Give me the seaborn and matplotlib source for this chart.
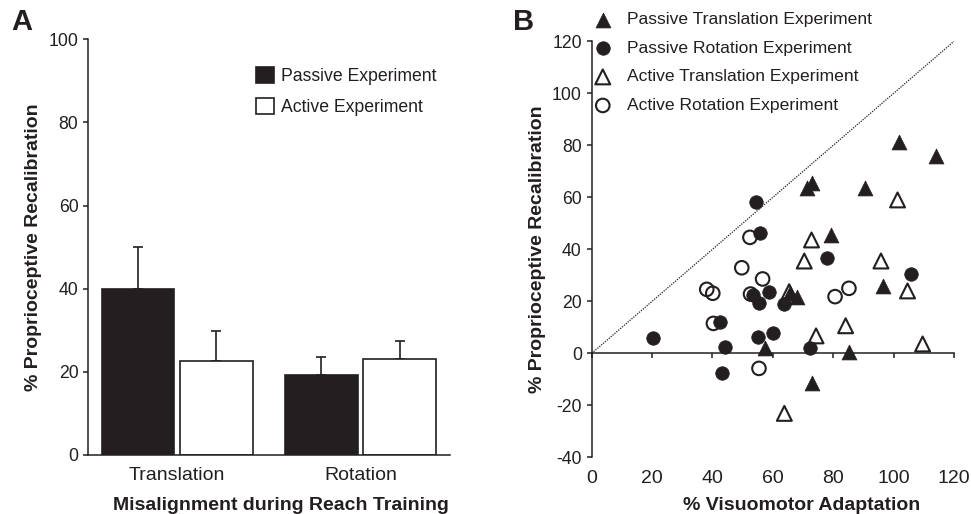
import numpy as np
import pandas as pd
import matplotlib
matplotlib.use("Agg")
import matplotlib.pyplot as plt
import seaborn as sns

# ---------------- data ----------------
misalignments = ["Translation", "Rotation"]
experiments = ["Passive Experiment", "Active Experiment"]
passive_means = [40.0, 19.3]
active_means = [22.6, 23.1]
passive_sem = [10.0, 4.3]
active_sem = [7.2, 4.3]

passive_trans_x = [101.9, 114.0, 72.8, 71.2, 90.6, 79.1, 96.6, 65.7, 67.9, 57.4, 85.3, 73.0]
passive_trans_y = [81.4, 76.0, 65.4, 63.5, 63.5, 45.5, 26.0, 23.1, 21.8, 1.9, 0.4, -11.5]

passive_rot_x = [20.4, 42.5, 44.2, 43.0, 54.3, 55.8, 58.8, 53.5, 55.3, 63.7, 60.1, 55.0, 72.3, 77.8, 105.7]
passive_rot_y = [5.8, 12.2, 2.5, -7.7, 58.1, 46.4, 23.5, 22.4, 19.3, 18.8, 7.9, 6.2, 1.9, 36.8, 30.5]

active_trans_x = [101.3, 72.8, 70.4, 95.8, 104.6, 65.4, 84.1, 74.3, 109.6, 63.8]
active_trans_y = [59.0, 43.6, 35.5, 35.5, 24.0, 23.7, 10.6, 6.7, 3.6, -23.1]

active_rot_x = [52.4, 49.7, 56.6, 38.1, 40.1, 52.6, 40.3, 55.4, 80.6, 85.2]
active_rot_y = [44.6, 32.9, 28.6, 24.6, 23.1, 22.8, 11.5, -5.8, 21.8, 25.0]

identity_range = [0, 120]

bar_yticks = [0, 20, 40, 60, 80, 100]
scatter_xticks = [0, 20, 40, 60, 80, 100, 120]
scatter_yticks = [-40, -20, 0, 20, 40, 60, 80, 100, 120]

# ---------------- style ----------------
sns.set_theme(style="ticks")
plt.rcParams["font.family"] = ["Liberation Sans", "DejaVu Sans"]
plt.rcParams["axes.unicode_minus"] = False
plt.rcParams["axes.linewidth"] = 1.1
plt.rcParams["xtick.major.width"] = 1.1
plt.rcParams["ytick.major.width"] = 1.1
BLACK = "#231f20"
for k in ["text.color", "axes.labelcolor", "xtick.color", "ytick.color", "axes.edgecolor"]:
    plt.rcParams[k] = BLACK

fig = plt.figure(figsize=(9.71, 5.14), dpi=100)
axA = fig.add_axes([0.0909, 0.1148, 0.3725, 0.8087])
axB = fig.add_axes([0.6094, 0.1103, 0.3731, 0.8093])

# ---------------- Panel A ----------------
df_bar = pd.DataFrame({
    "misalignment": misalignments * 2,
    "experiment": [experiments[0]] * 2 + [experiments[1]] * 2,
    "value": passive_means + active_means,
})
sns.barplot(data=df_bar, x="misalignment", y="value", hue="experiment",
            order=misalignments, hue_order=experiments,
            palette={experiments[0]: BLACK, experiments[1]: "white"},
            edgecolor=BLACK, linewidth=1.2, width=0.855, gap=0.07,
            errorbar=None, saturation=1, ax=axA)

errs = [passive_sem, active_sem]
for cont, err in zip(axA.containers, errs):
    xs = [p.get_x() + p.get_width() / 2 for p in cont.patches]
    hs = [p.get_height() for p in cont.patches]
    axA.errorbar(xs, hs, yerr=[np.zeros(len(err)), err], fmt="none",
                 ecolor=BLACK, elinewidth=1.2, capsize=3.5, capthick=1.2, zorder=0)

axA.set_ylim(0, 100)
axA.set_xlim(-0.485, 1.487)
axA.set_yticks(bar_yticks)
axA.tick_params(axis="y", labelsize=12.7, length=3.6, direction="out")
axA.tick_params(axis="x", labelsize=14, length=0, pad=9)
axA.set_ylabel("% Proprioceptive Recalibration", fontsize=14, fontweight="bold", labelpad=4.4)
axA.set_xlabel("Misalignment during Reach Training", fontsize=14, fontweight="bold")
axA.xaxis.set_label_coords(0.532, -0.1)
sns.despine(ax=axA)
sns.move_legend(axA, loc="upper left", bbox_to_anchor=(0.421, 0.972), frameon=False,
                title=None, fontsize=12.7, handlelength=1.0, handleheight=1.0,
                handletextpad=0.42, labelspacing=0.76)

# ---------------- Panel B ----------------
axB.plot(identity_range, identity_range, linestyle=(0, (1, 1)), color=BLACK, linewidth=0.9, zorder=1)

sns.scatterplot(x=passive_trans_x, y=passive_trans_y, marker="^", s=115,
                color=BLACK, edgecolor=BLACK, linewidth=0.5,
                label="Passive Translation Experiment", ax=axB, zorder=3)
sns.scatterplot(x=passive_rot_x, y=passive_rot_y, marker="o", s=95,
                color=BLACK, edgecolor=BLACK, linewidth=0.5,
                label="Passive Rotation Experiment", ax=axB, zorder=3)
sns.scatterplot(x=active_trans_x, y=active_trans_y, marker="^", s=115,
                facecolor="none", edgecolor=BLACK, linewidth=1.5,
                label="Active Translation Experiment", ax=axB, zorder=4)
sns.scatterplot(x=active_rot_x, y=active_rot_y, marker="o", s=95,
                facecolor="none", edgecolor=BLACK, linewidth=1.5,
                label="Active Rotation Experiment", ax=axB, zorder=4)

axB.set_xlim(0, 120)
axB.set_ylim(-40, 120)
axB.set_yticks(scatter_yticks)
axB.set_xticks(scatter_xticks)
axB.spines["top"].set_visible(False)
axB.spines["right"].set_visible(False)
axB.spines["bottom"].set_position(("data", 0))
axB.tick_params(axis="y", labelsize=12.7, length=3.6, direction="out")
axB.tick_params(axis="x", labelbottom=False, length=3.6, direction="out")
secx = axB.secondary_xaxis("bottom")
secx.set_xticks(scatter_xticks)
secx.tick_params(axis="x", length=0, labelsize=14, pad=9)
secx.spines["bottom"].set_visible(False)
axB.set_xlabel("% Visuomotor Adaptation", fontsize=14, fontweight="bold")
axB.xaxis.set_label_coords(0.58, -0.096)
axB.set_ylabel("% Proprioceptive Recalibration", fontsize=14, fontweight="bold", labelpad=4)

axB.legend(loc="upper left", bbox_to_anchor=(-0.013, 1.087), frameon=False,
           fontsize=12.6, handlelength=1.0, handletextpad=0.87,
           labelspacing=0.76, borderaxespad=0)

fig.text(0.012, 0.985, "A", fontsize=21, fontweight="bold", va="top", ha="left")
fig.text(0.528, 0.985, "B", fontsize=21, fontweight="bold", va="top", ha="left")

fig.savefig("out.png", dpi=100)
